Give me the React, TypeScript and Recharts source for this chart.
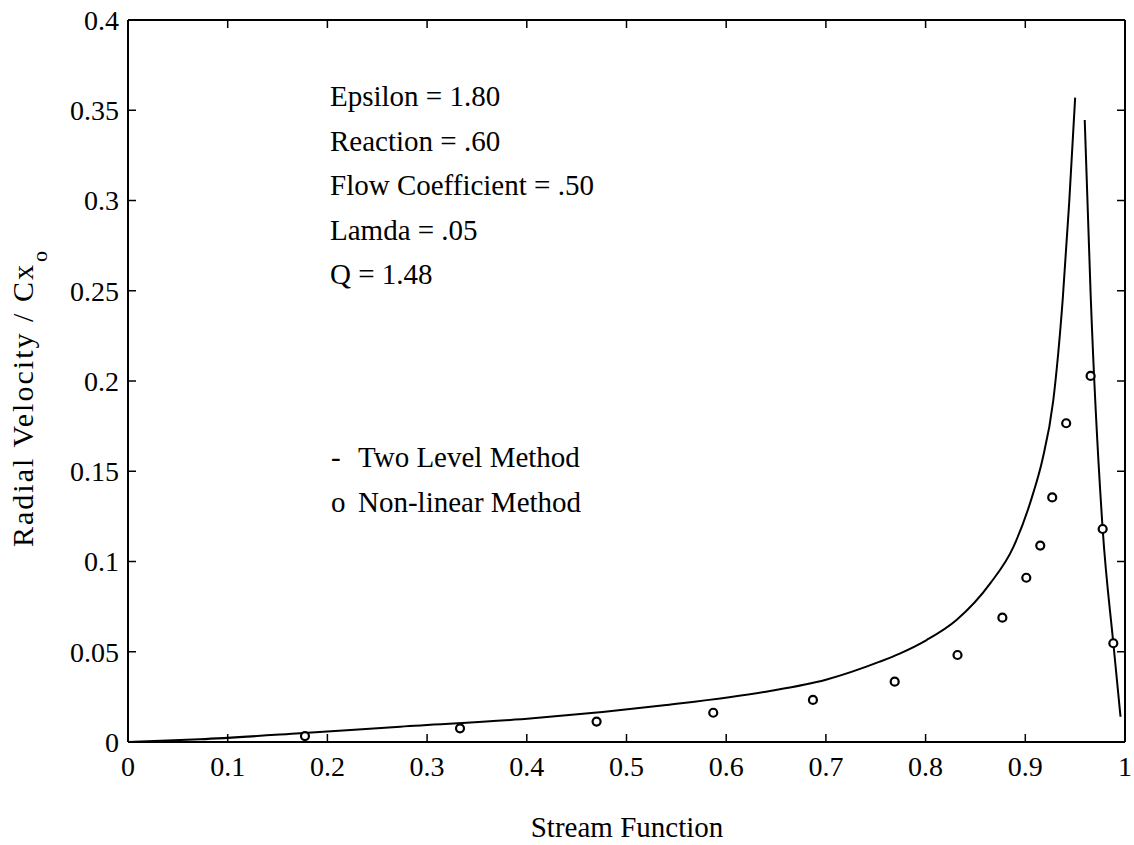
import { ComposedChart, Line, Scatter, XAxis, YAxis, Customized } from "recharts";

// Two Level Method curve (null breaks the pen between the two peak branches)
const curveX = [0, 0.072, 0.1725, 0.273, 0.406, 0.54, 0.64, 0.7, 0.754, 0.774, 0.801, 0.831, 0.865, 0.888, 0.908, 0.917, 0.928, 0.9375, 0.944, 0.95, 0.955, 0.9596, 0.9656, 0.9776, 0.9883, 0.9955];
const curveY = [0, 0.0015, 0.0048, 0.0085, 0.0131, 0.0205, 0.0279, 0.0345, 0.0445, 0.049, 0.0565, 0.0676, 0.088, 0.108, 0.138, 0.156, 0.189, 0.245, 0.2986, 0.357, null, 0.3446, 0.247, 0.118, 0.0547, 0.014];

// Non-linear Method points
const pointX = [0.1775, 0.333, 0.47, 0.587, 0.687, 0.769, 0.832, 0.877, 0.901, 0.915, 0.927, 0.941, 0.9655, 0.9776, 0.9883];
const pointY = [0.0033, 0.0076, 0.0113, 0.0162, 0.0233, 0.0334, 0.0482, 0.0689, 0.091, 0.1088, 0.1355, 0.1766, 0.2028, 0.118, 0.0547];

const xTicks = [0, 0.1, 0.2, 0.3, 0.4, 0.5, 0.6, 0.7, 0.8, 0.9, 1];
const yTicks = [0, 0.05, 0.1, 0.15, 0.2, 0.25, 0.3, 0.35, 0.4];

const params = ["Epsilon = 1.80", "Reaction = .60", "Flow Coefficient = .50", "Lamda = .05", "Q = 1.48"];
const legendItems = [
  { mark: "-", name: "Two Level Method" },
  { mark: "o", name: "Non-linear Method" },
];

const curve = curveX.map((x, i) => ({ x, y: curveY[i] }));
const points = pointX.map((x, i) => ({ x, y: pointY[i] }));

const FONT = "'Liberation Serif', 'Times New Roman', serif";
const tickStyle = { fontSize: 28, fontFamily: FONT, fill: "#000" };
const axisLine = { stroke: "#000", strokeWidth: 2 };
const tickLine = { stroke: "#000", strokeWidth: 1.5 };

const Ring = (props: any) => (
  <circle cx={props.cx} cy={props.cy} r={4} fill="#fff" stroke="#000" strokeWidth={2.2} />
);

function Annotations() {
  return (
    <g fontFamily={FONT} fill="#000">
      {params.map((t, i) => (
        <text key={t} x={330} y={96 + i * 44.5} fontSize={29} dominantBaseline="central">
          {t}
        </text>
      ))}
      {legendItems.map((d, i) => (
        <g key={d.name}>
          <text x={331} y={457 + i * 45} fontSize={29} dominantBaseline="central">{d.mark}</text>
          <text x={358} y={457 + i * 45} fontSize={29} dominantBaseline="central">{d.name}</text>
        </g>
      ))}
      <text x={33} y={547} fontSize={30} textLength={282} lengthAdjust="spacing" transform="rotate(-90 33 547)">
        Radial Velocity / Cx
      </text>
      <text x={47} y={262} fontSize={22} transform="rotate(-90 47 262)">o</text>
      <text x={627} y={837} fontSize={29} textAnchor="middle">
        Stream Function
      </text>
    </g>
  );
}

export default function App() {
  return (
    <div style={{ position: "absolute", left: 0, top: 0, background: "#fff" }}>
      <ComposedChart width={1134} height={845} margin={{ top: 19, right: 8, bottom: 102, left: 0 }}>
        <XAxis xAxisId="b" type="number" dataKey="x" domain={[0, 1]} ticks={xTicks} tickSize={-8}
          tickMargin={22} height={1} axisLine={axisLine} tickLine={tickLine} tick={tickStyle} allowDataOverflow />
        <XAxis xAxisId="t" orientation="top" type="number" dataKey="x" domain={[0, 1]} ticks={xTicks}
          tickSize={-8} height={1} tickFormatter={() => ""} axisLine={axisLine} tickLine={tickLine} allowDataOverflow />
        <YAxis yAxisId="l" type="number" domain={[0, 0.4]} ticks={yTicks} tickSize={-8} tickMargin={17}
          width={128} axisLine={axisLine} tickLine={tickLine} tick={tickStyle} allowDataOverflow />
        <YAxis yAxisId="r" orientation="right" type="number" domain={[0, 0.4]} ticks={yTicks} tickSize={-8}
          width={1} tickFormatter={() => ""} axisLine={axisLine} tickLine={tickLine} allowDataOverflow />
        <Line xAxisId="b" yAxisId="l" data={curve} dataKey="y" type="monotone" stroke="#000" strokeWidth={2}
          dot={false} activeDot={false} connectNulls={false} isAnimationActive={false} />
        <Scatter xAxisId="b" yAxisId="l" data={points} dataKey="y" shape={Ring} isAnimationActive={false} />
        <Customized component={Annotations} />
      </ComposedChart>
    </div>
  );
}
